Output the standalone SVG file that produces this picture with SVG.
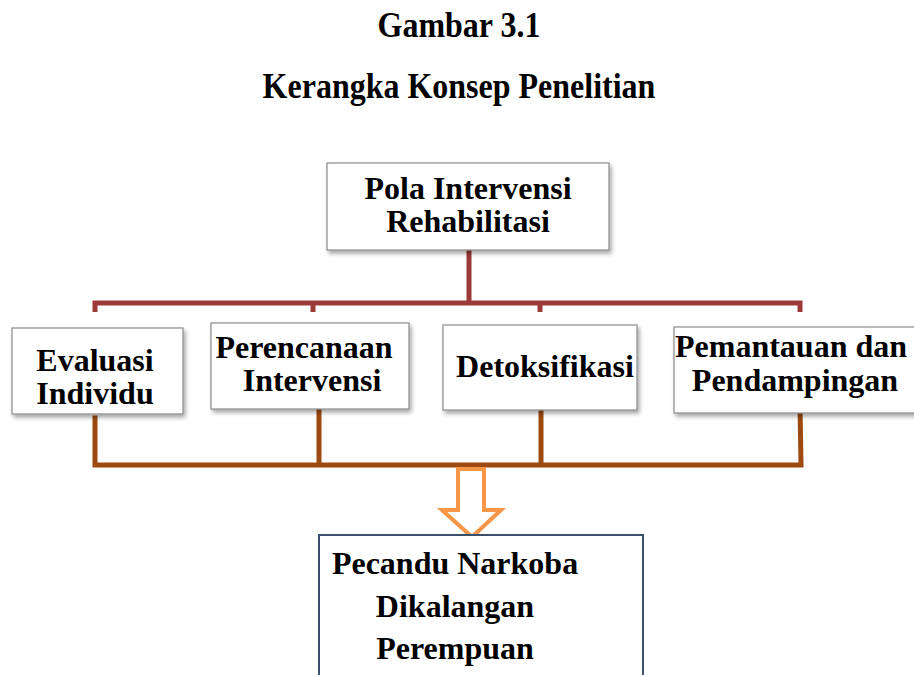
<svg xmlns="http://www.w3.org/2000/svg" width="914" height="675" viewBox="0 0 914 675">
<defs>
<filter id="sh" x="-10%" y="-10%" width="130%" height="140%">
<feDropShadow dx="2" dy="3" stdDeviation="2" flood-color="#000" flood-opacity="0.35"/>
</filter>
</defs>
<style>
text{font-family:"Liberation Serif","Times New Roman",serif;font-weight:bold;font-size:32px;fill:#000;text-anchor:middle}
.box{fill:#fff;stroke:#8a8a8a;stroke-width:1.2;filter:url(#sh)}
.red{stroke:#9b3a37;stroke-width:5;fill:none}
.brown{stroke:#9c4a10;stroke-width:5;fill:none;stroke-linecap:square}
</style>
<rect width="914" height="675" fill="#fff"/>
<g id="title">
<text x="459" y="37" transform="translate(0,-3.7) scale(1,1.1)" font-size="32">Gambar 3.1</text>
<text x="459" y="98" transform="translate(0,-9.8) scale(1,1.1)" font-size="32">Kerangka Konsep Penelitian</text>
</g>
<g id="connectors">
<path class="red" d="M469 250 V303 M95 312 V303 H800 V312 M313 303 V312 M540 303 V312"/>
<path class="brown" d="M95 418 V465 H801 M319 409 V465 M541 410 V465 M800 406 L801 465"/>
<path d="M458 469 H484 V510 H501 L472 537 L442 510 H458 Z" fill="#fff" stroke="#f79646" stroke-width="4" stroke-linejoin="miter"/>
</g>
<g id="n-pola">
<rect class="box" x="327" y="163" width="282" height="87"/>
<text x="468" y="199">Pola Intervensi</text>
<text x="468" y="232">Rehabilitasi</text>
</g>
<g id="n-evaluasi">
<rect class="box" x="12" y="328" width="171" height="86"/>
<text x="95" y="371">Evaluasi</text>
<text x="95" y="404">Individu</text>
</g>
<g id="n-perencanaan">
<rect class="box" x="211" y="323" width="198" height="86"/>
<text x="304" y="358">Perencanaan</text>
<text x="312" y="391">Intervensi</text>
</g>
<g id="n-detoks">
<rect class="box" x="443" y="325" width="194" height="85"/>
<text x="545" y="377">Detoksifikasi</text>
</g>
<g id="n-pemantauan">
<rect class="box" x="674" y="327" width="245" height="86"/>
<text x="791" y="357">Pemantauan dan</text>
<text x="795" y="391">Pendampingan</text>
</g>
<g id="n-pecandu">
<rect x="319" y="535" width="324" height="150" fill="#fff" stroke="#3b4e6b" stroke-width="2"/>
<text x="455" y="574">Pecandu Narkoba</text>
<text x="455" y="617">Dikalangan</text>
<text x="455" y="659">Perempuan</text>
</g>
</svg>
